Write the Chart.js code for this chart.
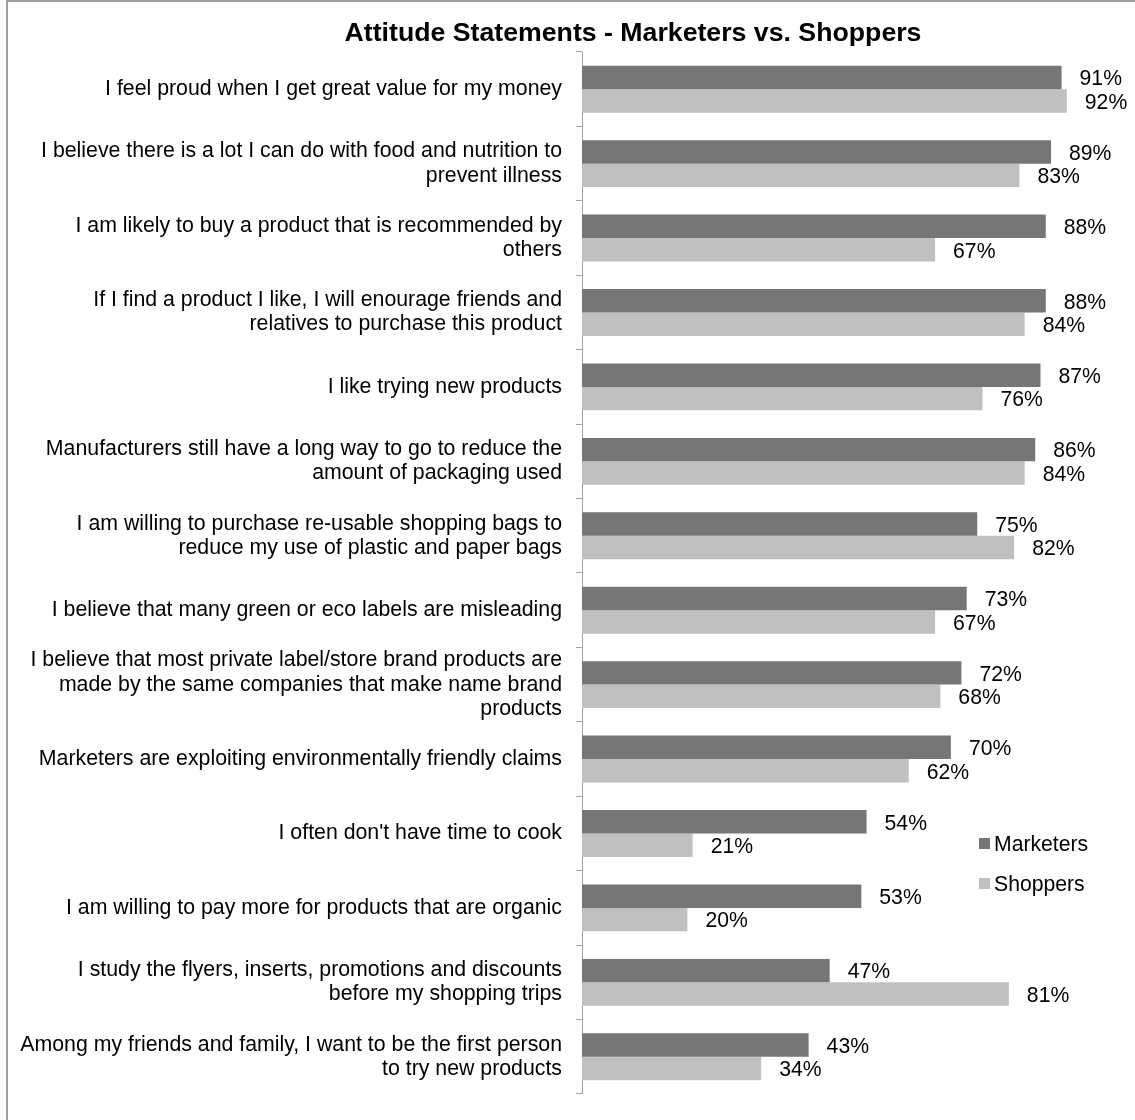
<!DOCTYPE html>
<html>
<head>
<meta charset="utf-8">
<script src="https://cdn.jsdelivr.net/npm/chart.js@4"></script>
<style>
  html, body { margin: 0; padding: 0; background: #fff; }
  #wrap { position: relative; width: 1135px; height: 1120px; }
  #frame {
    position: absolute; left: 6px; top: 0; right: 0; bottom: 0;
    border-left: 2px solid #a0a0a0; border-top: 2px solid #a0a0a0;
    pointer-events: none;
  }
</style>
</head>
<body>
<div id="wrap">
  <canvas id="chart" width="1135" height="1120"></canvas>
  <div id="frame"></div>
</div>
<script>
const chartTitle = 'Attitude Statements - Marketers vs. Shoppers';

const statements = [
    ['I feel proud when I get great value for my money'],
    ['I believe there is a lot I can do with food and nutrition to', 'prevent illness'],
    ['I am likely to buy a product that is recommended by', 'others'],
    ['If I find a product I like, I will enourage friends and', 'relatives to purchase this product'],
    ['I like trying new products'],
    ['Manufacturers still have a long way to go to reduce the', 'amount of packaging used'],
    ['I am willing to purchase re-usable shopping bags to', 'reduce my use of plastic and paper bags'],
    ['I believe that many green or eco labels are misleading'],
    ['I believe that most private label/store brand products are', 'made by the same companies that make name brand', 'products'],
    ['Marketers are exploiting environmentally friendly claims'],
    ["I often don't have time to cook"],
    ['I am willing to pay more for products that are organic'],
    ['I study the flyers, inserts, promotions and discounts', 'before my shopping trips'],
    ['Among my friends and family, I want to be the first person', 'to try new products']
];

const marketers = [91, 89, 88, 88, 87, 86, 75, 73, 72, 70, 54, 53, 47, 43];
const shoppers  = [92, 83, 67, 84, 76, 84, 82, 67, 68, 62, 21, 20, 81, 34];

const seriesNames = ['Marketers', 'Shoppers'];
const seriesColors = ['#767676', '#c0c0c0'];

const FONT = '"Liberation Sans", Arial, sans-serif';

// title, value labels and legend drawn by hand
const extras = {
    id: 'extras',
    afterDatasetsDraw(chart) {
        const ctx = chart.ctx;
        ctx.save();
        ctx.fillStyle = '#000';

        ctx.font = 'bold 26.7px ' + FONT;
        ctx.textAlign = 'center';
        ctx.textBaseline = 'middle';
        ctx.fillText(chartTitle, 633, 34);

        ctx.font = '21.2px ' + FONT;
        ctx.textAlign = 'left';
        chart.data.datasets.forEach((ds, i) => {
            const meta = chart.getDatasetMeta(i);
            meta.data.forEach((bar, j) => {
                ctx.fillText(ds.data[j] + '%', bar.x + 18, bar.y + 2);
            });
        });

        seriesNames.forEach((name, i) => {
            const y = 845 + i * 40;
            ctx.fillStyle = seriesColors[i];
            ctx.fillRect(979, y - 7, 11, 11);
            ctx.fillStyle = '#000';
            ctx.fillText(name, 994, y);
        });
        ctx.restore();
    }
};

new Chart(document.getElementById('chart').getContext('2d'), {
    type: 'bar',
    data: {
        labels: statements,
        datasets: [
            { label: seriesNames[0], data: marketers, backgroundColor: seriesColors[0] },
            { label: seriesNames[1], data: shoppers, backgroundColor: seriesColors[1] }
        ]
    },
    options: {
        indexAxis: 'y',
        responsive: false,
        animation: false,
        categoryPercentage: 0.63,
        barPercentage: 1.0,
        layout: { padding: { top: 52, right: 26, bottom: 3, left: 0 } },
        scales: {
            x: { display: false, min: 0, max: 100 },
            y: {
                afterFit(scale) { scale.width = 582; },
                border: { display: true, color: '#a0a0a0', width: 1 },
                grid: {
                    display: true,
                    drawOnChartArea: false,
                    drawTicks: true,
                    tickLength: 6,
                    color: '#a0a0a0',
                    offset: true
                },
                ticks: {
                    padding: 14,
                    color: '#000',
                    autoSkip: false,
                    font: { family: FONT, size: 21.3, lineHeight: 1.13 }
                }
            }
        },
        plugins: {
            legend: { display: false },
            title: { display: false },
            tooltip: { enabled: false }
        }
    },
    plugins: [extras]
});
</script>
</body>
</html>
